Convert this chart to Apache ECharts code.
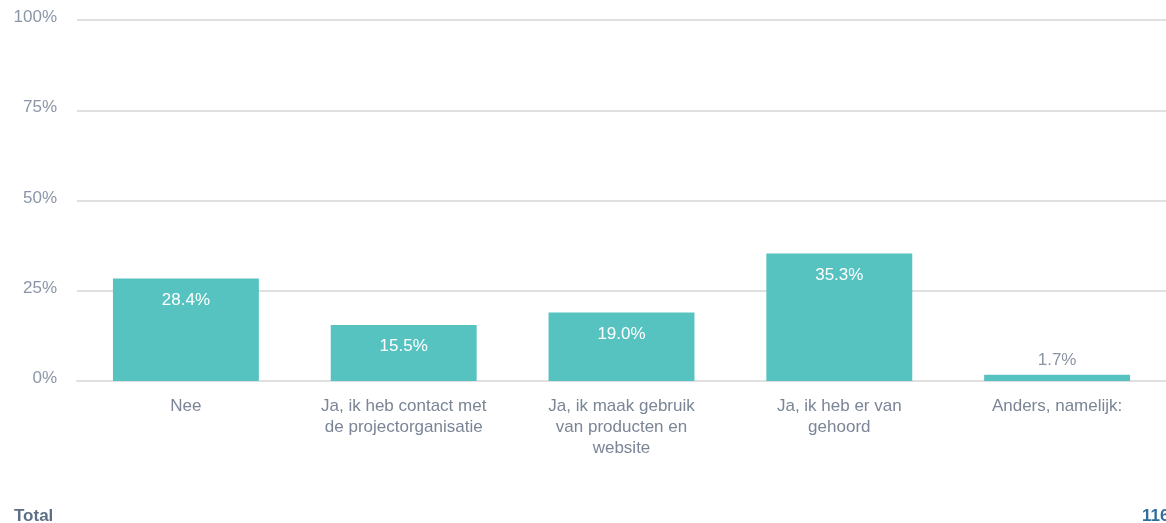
<!DOCTYPE html>
<html>
<head>
<meta charset="utf-8">
<script src="https://cdn.jsdelivr.net/npm/echarts@6/dist/echarts.min.js"></script>
<style>
  html, body { margin: 0; padding: 0; background: #fff; }
  #container { width: 1166px; height: 523px; }
</style>
</head>
<body>
<div id="container"></div>
<script>
let chart = echarts.init(document.getElementById('container'));

var categories = [
    'Nee',
    'Ja, ik heb contact met\nde projectorganisatie',
    'Ja, ik maak gebruik\nvan producten en\nwebsite',
    'Ja, ik heb er van\ngehoord',
    'Anders, namelijk:'
];
var percentages = [28.4, 15.5, 19.0, 35.3, 1.7];
var totalLabel = 'Total';
var totalCount = '116';

var font = 'Arial, "Liberation Sans", sans-serif';

var barData = percentages.map(v => {
    let item = { value: v };
    // small bars get the label above, in grey
    if (v < 5) {
        item.label = { position: 'top', color: '#8a94a4', distance: 6 };
    }
    return item;
});

var option = {
    animation: false,
    grid: {
        left: 77,
        right: -1,
        top: 20,
        bottom: 142,
    },
    xAxis: {
        type: 'category',
        data: categories,
        axisLine: { lineStyle: { color: '#e0e0e0', width: 2 } },
        axisTick: { show: false },
        axisLabel: {
            interval: 0,
            margin: 15,
            color: '#7b8596',
            fontFamily: font,
            fontSize: 17,
            lineHeight: 21,
        },
    },
    yAxis: {
        type: 'value',
        min: 0,
        max: 100,
        interval: 25,
        axisLine: { show: false },
        axisTick: { show: false },
        splitLine: { lineStyle: { color: '#e0e0e0', width: 2 } },
        axisLabel: {
            formatter: '{v|{value}%}',
            margin: 20,
            rich: {
                v: {
                    color: '#8a96a8',
                    fontFamily: font,
                    fontSize: 17,
                    padding: [0, 0, 5, 0],
                },
            },
        },
    },
    series: [{
        type: 'bar',
        data: barData,
        barCategoryGap: '33%',
        itemStyle: { color: '#57c3c0' },
        label: {
            show: true,
            position: 'insideTop',
            distance: 13,
            color: '#ffffff',
            fontFamily: font,
            fontSize: 17,
            formatter: p => p.value.toFixed(1) + '%',
        },
    }],
    graphic: [
        {
            type: 'text',
            left: 14,
            top: 508,
            style: {
                text: totalLabel,
                fill: '#5e6f85',
                font: 'bold 17px ' + font,
            },
        },
        {
            type: 'text',
            left: 1142,
            top: 508,
            style: {
                text: totalCount,
                fill: '#2f6e9c',
                font: 'bold 17px ' + font,
            },
        },
    ],
};

chart.setOption(option);
</script>
</body>
</html>
